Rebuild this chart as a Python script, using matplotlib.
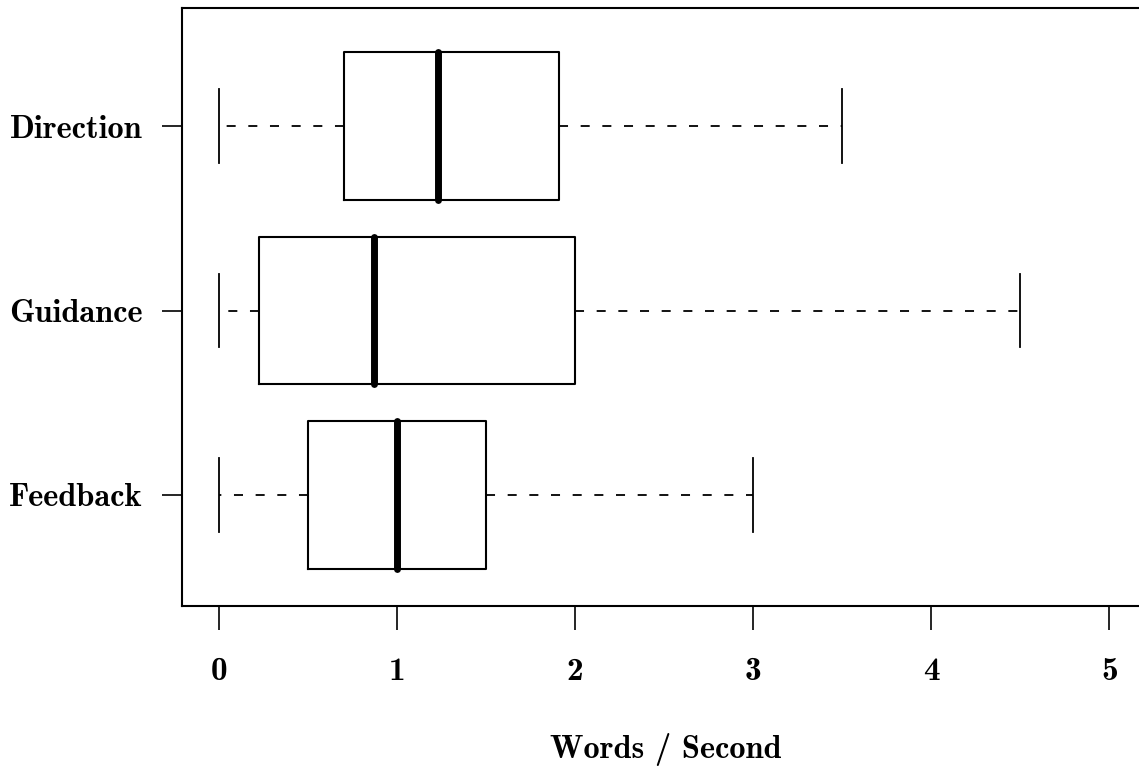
import matplotlib
matplotlib.use("Agg")
import matplotlib.pyplot as plt

categories = ["Feedback", "Guidance", "Direction"]
whisker_lo = [0.0, 0.0, 0.0]
q1 = [0.5, 0.225, 0.70]
median = [1.0, 0.87, 1.23]
q3 = [1.5, 2.0, 1.91]
whisker_hi = [3.0, 4.5, 3.5]
xticks = [0, 1, 2, 3, 4, 5]

plt.rcParams["axes.unicode_minus"] = False
font = "cmb10"

stats = []
for i, name in enumerate(categories):
    stats.append(dict(label=name, whislo=whisker_lo[i], q1=q1[i], med=median[i],
                      q3=q3[i], whishi=whisker_hi[i], fliers=[]))

fig = plt.figure(figsize=(11.39, 7.67), dpi=100)
ax = fig.add_axes([182/1139, 1 - 606/767, 1 - 182/1139 + 0.01, (606 - 8)/767])

ax.bxp(stats, positions=[1, 2, 3], orientation="horizontal", widths=0.8,
       capwidths=0.4, showfliers=False,
       boxprops=dict(color="black", linewidth=1.5),
       medianprops=dict(color="black", linewidth=5, solid_capstyle="round"),
       whiskerprops=dict(color="black", linewidth=1.3, linestyle=(0, (5, 7))),
       capprops=dict(color="black", linewidth=1.3))

ax.set_xlim(-0.208, 5.23)
ax.set_ylim(0.398, 3.64)
ax.set_xticks(xticks)
ax.set_xticklabels([str(t) for t in xticks], fontfamily=font, fontsize=24)
ax.set_yticks([1, 2, 3])
ax.set_yticklabels(categories, fontfamily=font, fontsize=23.3)
ax.tick_params(axis="x", length=17, width=1.2, pad=19.5)
ax.tick_params(axis="y", length=14.5, width=1.2, pad=14)
ax.set_xlabel("Words / Second", fontfamily=font, fontsize=23.3, labelpad=34)
for s in ax.spines.values():
    s.set_linewidth(1.5)
ax.spines["right"].set_visible(False)

fig.savefig("out.png", dpi=100)
